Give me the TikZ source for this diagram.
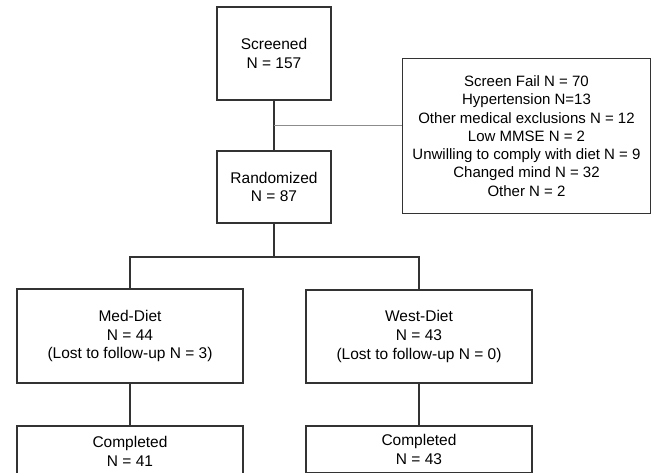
\documentclass[tikz,border=0pt]{standalone}
\usepackage{fontspec}
\setmainfont{Liberation Sans}
\usetikzlibrary{positioning}
\definecolor{boxC}{HTML}{333333}
\definecolor{thinC}{HTML}{8C8C8C}

\begin{document}
\begin{tikzpicture}
  [x=1pt,y=-1pt,
   boxN/.style={draw=boxC,line width=1.3pt,align=center,inner sep=0pt,
                font=\fontsize{15.5}{18.8}\selectfont},
   topN/.style={boxN,minimum width=114pt},
   armN/.style={boxN,minimum width=226pt},
   exclN/.style={boxN,minimum width=248pt,minimum height=155pt,
                 font=\fontsize{15}{18.3}\selectfont},
   linkL/.style={draw=boxC,line width=1.3pt},
   thinL/.style={draw=thinC,line width=1pt},
  ]
 \useasboundingbox (0,0) rectangle (654,473);
 \clip (0,0) rectangle (654,473);

 \node[topN,minimum height=93pt] (screened) at (274,53.5) {Screened\\N = 157};
 \node[topN,minimum height=72pt] (random) at (274,187) {Randomized\\N = 87};
 \node[exclN] (excl) at (526.5,136) {Screen Fail N = 70\\Hypertension N=13\\Other medical exclusions N = 12\\Low MMSE N = 2\\Unwilling to comply with diet N = 9\\Changed mind N = 32\\Other N = 2};

 \node[armN,minimum height=94pt] (med) at (130,336) {Med-Diet\\N = 44\\(Lost to follow-up N = 3)};
 \node[armN,minimum height=93pt] (west) at (419,336.5) {West-Diet\\N = 43\\(Lost to follow-up N = 0)};
 \node[armN,minimum height=50pt] (medDone) at (130,451) {Completed\\N = 41};
 \node[armN,minimum height=47pt] (westDone) at (419,449.5) {Completed\\N = 43};

 \coordinate (excJoin) at (274,126);
 \coordinate (split) at (274,257);

 \draw[linkL] (screened) -- (random);
 \draw[thinL] (excJoin) -- (excJoin -| excl.west);
 \draw[linkL] (random) -- (split);
 \draw[linkL] (med.north) |- (split) -| (west.north);
 \draw[linkL] (med) -- (medDone);
 \draw[linkL] (west) -- (westDone);
\end{tikzpicture}
\end{document}
